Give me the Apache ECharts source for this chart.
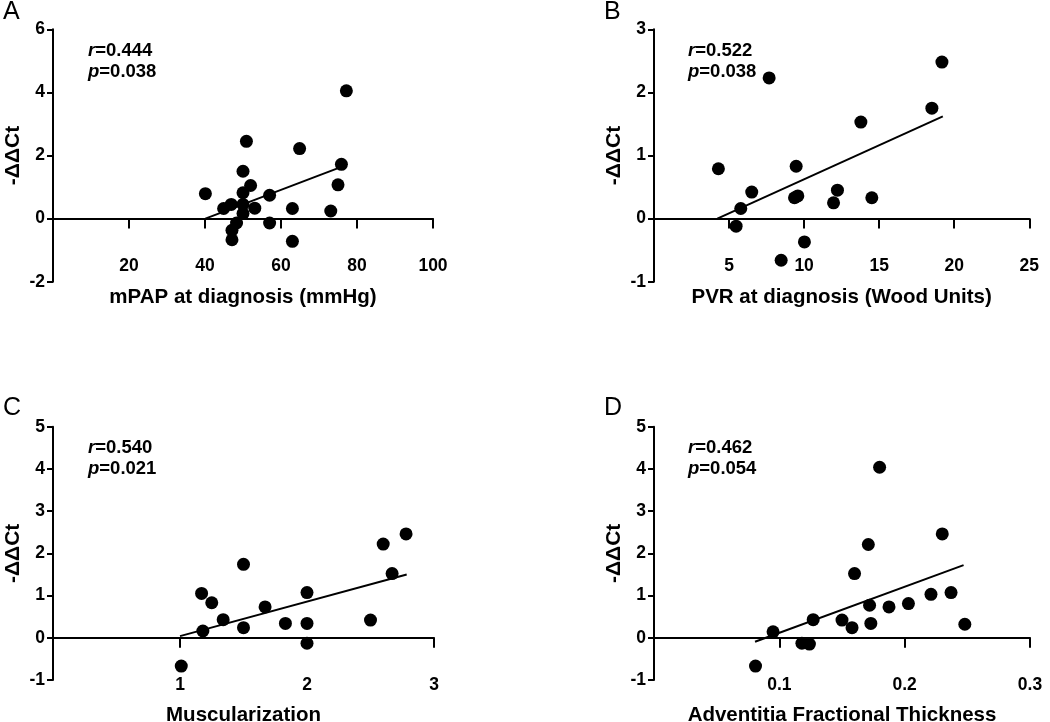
<!DOCTYPE html>
<html>
<head>
<meta charset="utf-8">
<script src="https://cdn.jsdelivr.net/npm/echarts@6/dist/echarts.min.js"></script>
<style>
html,body{margin:0;padding:0;background:#fff;}
#c{width:1050px;height:722px;}
</style>
</head>
<body>
<div id="c"></div>
<script>
// Panel A: mPAP at diagnosis
const aX = [40.1,44.9,46.9,47.1,47.1,48.3,50.0,50.0,50.0,50.0,50.9,52.0,53.1,57.0,57.0,63.0,63.0,64.9,73.1,75.0,75.9,77.2];
const aY = [0.79,0.32,0.45,-0.37,-0.67,-0.14,1.50,0.82,0.45,0.16,2.45,1.05,0.33,0.74,-0.14,0.32,-0.72,2.22,0.24,1.07,1.72,4.05];
const aFitX = [40.1, 75.9];
const aFitY = [0.0, 1.64];
// Panel B: PVR at diagnosis
const bX = [4.29,5.47,5.78,6.51,7.67,8.47,9.47,9.36,9.58,10.02,11.96,12.22,13.78,14.51,18.51,19.18];
const bY = [0.79,-0.12,0.16,0.42,2.23,-0.66,0.83,0.33,0.36,-0.37,0.25,0.45,1.53,0.33,1.75,2.48];
const bFitX = [4.22, 19.24];
const bFitY = [0.0, 1.62];
// Panel C: Muscularization
const cX = [1.01,1.17,1.18,1.25,1.34,1.50,1.50,1.67,1.83,2.0,2.0,2.0,2.50,2.60,2.67,2.78];
const cY = [-0.67,1.05,0.16,0.83,0.43,1.74,0.24,0.73,0.34,1.07,0.34,-0.13,0.42,2.22,1.52,2.46];
const cFitX = [1.0, 2.785];
const cFitY = [0.04, 1.50];
// Panel D: Adventitia Fractional Thickness
const dX = [0.081,0.095,0.118,0.124,0.127,0.150,0.158,0.160,0.171,0.172,0.173,0.180,0.1875,0.203,0.221,0.230,0.237,0.248];
const dY = [-0.67,0.14,-0.13,-0.15,0.43,0.42,0.24,1.52,2.21,0.77,0.34,4.04,0.73,0.81,1.03,2.46,1.07,0.32];
const dFitX = [0.0806, 0.247];
const dFitY = [-0.094, 1.72];

const panelLetters = ['A','B','C','D'];
const xNames = ['mPAP at diagnosis (mmHg)','PVR at diagnosis (Wood Units)','Muscularization','Adventitia Fractional Thickness'];
const yName = '-ΔΔCt';
const xMin = [0,0,0,0];
const xMax = [100,25,3,0.3];
const xStep = [20,5,1,0.1];
const yMin = [-2,-1,-1,-1];
const yMax = [6,3,5,5];
const yStep = [2,1,1,1];
const rVals = ['0.444','0.522','0.540','0.462'];
const pVals = ['0.038','0.038','0.021','0.054'];

const FONT = '"Liberation Sans", Arial, Helvetica, sans-serif';
const grids = [
  {left:53, top:29.3, width:380, height:252.4},
  {left:654, top:29.3, width:375.3, height:252.4},
  {left:53, top:426.7, width:381, height:253.3},
  {left:654, top:426.7, width:376, height:253.3}
];
const labelMargin = [-25, -25, -4, -4];
const nameGapX = [5, 5, 25, 25];
const pts = [[aX,aY],[bX,bY],[cX,cY],[dX,dY]];
const fits = [[aFitX,aFitY],[bFitX,bFitY],[cFitX,cFitY],[dFitX,dFitY]];

const option = {
  animation:false,
  backgroundColor:'#fff',
  grid: grids.map(g => Object.assign({containLabel:false, outerBoundsMode:'none'}, g)),
  xAxis: grids.map((g,i) => ({
    type:'value', gridIndex:i, min:xMin[i], max:xMax[i], interval:xStep[i],
    name:xNames[i], nameLocation:'middle', nameGap:nameGapX[i],
    nameTextStyle:{fontFamily:FONT, fontWeight:'bold', fontSize:20.5, color:'#000'},
    axisLine:{show:true, onZero:true, lineStyle:{color:'#000', width:2}},
    axisTick:{show:true, length:10, lineStyle:{color:'#000', width:2}},
    axisLabel:{showMinLabel:false, margin:labelMargin[i], fontFamily:FONT, fontWeight:'bold', fontSize:17.5, color:'#000',
      formatter: v => (i===3 ? (+v).toFixed(1) : String(v))},
    splitLine:{show:false}
  })),
  yAxis: grids.map((g,i) => ({
    type:'value', gridIndex:i, min:yMin[i], max:yMax[i], interval:yStep[i],
    name:yName, nameLocation:'middle', nameGap:29,
    nameTextStyle:{fontFamily:FONT, fontWeight:'bold', fontSize:21, color:'#000'},
    axisLine:{show:true, onZero:false, lineStyle:{color:'#000', width:2}},
    axisTick:{show:true, length:6, lineStyle:{color:'#000', width:2}},
    axisLabel:{margin:8, fontFamily:FONT, fontWeight:'bold', fontSize:17.5, color:'#000'},
    splitLine:{show:false}
  })),
  series: [].concat(
    pts.map((p,i) => ({
      type:'scatter', xAxisIndex:i, yAxisIndex:i, symbol:'circle', symbolSize:13,
      itemStyle:{color:'#000', opacity:1},
      data: p[0].map((x,k) => [x, p[1][k]])
    })),
    fits.map((f,i) => ({
      type:'line', xAxisIndex:i, yAxisIndex:i, symbol:'none',
      lineStyle:{color:'#000', width:2},
      data: f[0].map((x,k) => [x, f[1][k]])
    }))
  ),
  graphic: [].concat(
    panelLetters.map((L,i) => ({
      type:'text', x:(i%2===0 ? 3 : 604), y:(i<2 ? 12.5 : 408),
      style:{text:L, font:'25px ' + FONT, fill:'#000', verticalAlign:'middle'}
    })),
    rVals.map((r,i) => ({
      type:'text', x:(i%2===0 ? 88 : 688), y:(i<2 ? 40 : 437),
      style:{
        text:'{i|r}{b|=' + r + '}\n{i|p}{b|=' + pVals[i] + '}',
        fill:'#000',
        rich:{
          i:{fontFamily:FONT, fontStyle:'italic', fontWeight:'bold', fontSize:18.5, lineHeight:21, fill:'#000'},
          b:{fontFamily:FONT, fontWeight:'bold', fontSize:18.5, lineHeight:21, fill:'#000'}
        }
      }
    }))
  )
};
const chart = echarts.init(document.getElementById('c'), null, {renderer:'canvas'});
chart.setOption(option);
</script>
</body>
</html>
